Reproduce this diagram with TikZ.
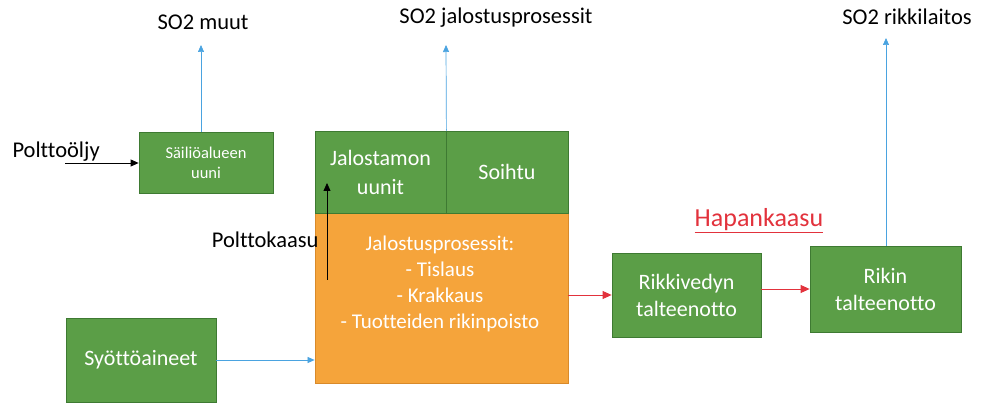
\documentclass[tikz,border=0pt]{standalone}
\usepackage{fontspec}
\setmainfont{Carlito}[Ligatures=NoCommon]
\usetikzlibrary{arrows.meta}
\definecolor{boxgreen}{HTML}{5B9E47}
\definecolor{boxedge}{HTML}{3E7A32}
\definecolor{procorange}{HTML}{F5A43B}
\definecolor{procedge}{HTML}{D98A2A}
\definecolor{flowblue}{HTML}{4AA3E0}
\definecolor{flowred}{HTML}{E2323C}
\begin{document}
\begin{tikzpicture}[x=1pt,y=-1pt,
  unit/.style={draw=boxedge,fill=boxgreen,text=white,align=center,inner sep=2pt,line width=0.8pt,font=\fontsize{22}{27}\selectfont},
  process/.style={draw=procedge,fill=procorange,line width=0.8pt},
  proclines/.style={text=white,align=center,font=\fontsize{21}{26}\selectfont},
  label/.style={font=\fontsize{22.5}{27}\selectfont},
  blueflow/.style={draw=flowblue,line width=0.7pt,-{Triangle[length=7pt,width=6pt]}},
  redflow/.style={draw=flowred,line width=0.8pt,-{Triangle[length=9pt,width=8pt]}},
  blackflow/.style={draw=black,line width=0.8pt,-{Triangle[length=8pt,width=7pt]}}]
\useasboundingbox (0,0) rectangle (988,403);
% process blocks
\node[process,minimum width=253pt,minimum height=170pt] (jalostus) at (441.5,298) {};
\node[proclines] (prosessit) at (440,284) {Jalostusprosessit:\\- Tislaus\\- Krakkaus\\- Tuotteiden rikinpoisto};
\node[unit,minimum width=131pt,minimum height=82pt,font=\fontsize{22}{29}\selectfont] (uunit) at (380.5,172) {Jalostamon\\uunit};
\node[unit,minimum width=122pt,minimum height=82pt] (soihtu) at (507,172) {Soihtu};
\node[unit,minimum width=134pt,minimum height=61pt,font=\fontsize{16.5}{20}\selectfont] (sailio) at (206,162.5) {Säiliöalueen\\uuni};
\node[unit,minimum width=150pt,minimum height=84pt] (syotto) at (141,360) {Syöttöaineet};
\node[unit,minimum width=149pt,minimum height=84pt] (rikkivety) at (686.5,295) {Rikkivedyn\\talteenotto};
\node[unit,minimum width=151pt,minimum height=86pt] (rikin) at (885.5,289) {Rikin\\talteenotto};
% texts
\node[label] (muut) at (203,22) {SO2 muut};
\node[label] (soprosessi) at (496,18) {SO2 jalostusprosessit};
\node[label] (sorikki) at (907,17) {SO2 rikkilaitos};
\node[label,anchor=west] (oljy) at (9,152) {Polttoöljy};
\node[label,anchor=east] (kaasu) at (322,240) {Polttokaasu};
\node[font=\fontsize{26}{30}\selectfont,text=flowred] (hapan) at (759,221) {\underline{Hapankaasu}};
% free ends
\coordinate (oljyin) at (65,163);
\coordinate (kaasuin) at (327,280);
\coordinate (kaasuout) at (327,183);
\coordinate (muutout) at (201,45);
\coordinate (prosout) at (446,45);
\coordinate (rikkiout) at (886,38);
% flows
\draw[blackflow] (oljyin) -- (sailio.west |- oljyin);
\draw[blackflow] (kaasuin) -- (kaasuout);
\draw[blueflow] (sailio.north -| muutout) -- (muutout);
\draw[blueflow] (uunit.north east) -- (prosout);
\draw[blueflow] (rikin.north -| rikkiout) -- (rikkiout);
\draw[blueflow] (syotto.east) -- (jalostus.west |- syotto.east);
\draw[redflow] (jalostus.east |- rikkivety.west) -- (rikkivety.west);
\draw[redflow] (rikkivety.east |- rikin.west) -- (rikin.west);
\end{tikzpicture}
\end{document}
